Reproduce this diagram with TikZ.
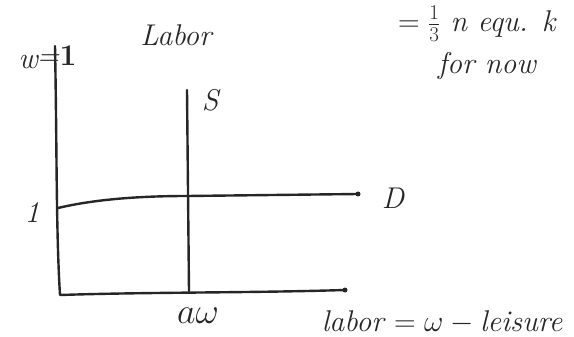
\RequirePackage{fix-cm}
\documentclass[tikz,border=0pt]{standalone}
\begin{document}
\begin{tikzpicture}[x=1pt,y=-1pt,
  ink/.style={line width=2.4pt,draw=black!85,line cap=round,line join=round},
  lbl/.style={font=\fontsize{30}{32}\selectfont\itshape,text=black!85,inner sep=0pt},
  big/.style={font=\fontsize{36}{38}\selectfont\itshape,text=black!85,inner sep=0pt},
  dot/.style={circle,fill=black!85,inner sep=0pt,minimum size=5pt}]
\useasboundingbox (0,0) rectangle (574,337);
% axes
\coordinate (ytop) at (55,46);
\coordinate (origin) at (60,295);
\node[dot] (xend) at (345,290) {};
\draw[ink] (ytop) .. controls (57,150) and (56,230) .. (origin)
  .. controls (150,292) and (250,293) .. (xend.center);
% supply
\coordinate (stop) at (187,90);
\coordinate (sbot) at (189,291);
\draw[ink] (stop) -- (sbot);
% demand
\coordinate (dstart) at (58,208);
\node[dot] (dend) at (358,194) {};
\draw[ink] (dstart) .. controls (100,198) and (150,196) .. (187,196) -- (dend.center);
% labels
\node[lbl] (labor) at (176,35) {Labor};
\node[lbl] (w) at (28,62) {w};
\node[lbl] (eq) at (48,60) {=};
\node[lbl,font=\fontsize{30}{32}\selectfont\bfseries] (wone) at (68,56) {1};
\node[lbl] (s) at (210,100) {S};
\node[lbl] (one) at (32,213) {1};
\node[lbl] (d) at (393,198) {D};
\node[big] (aw) at (198,316) {$a\omega$};
\node[lbl] (lab) at (442,322) {labor $=\omega-{}$leisure};
\node[lbl,anchor=west] (eqn) at (398,24) {$=\frac{1}{3}$ n equ. k};
\node[lbl] (fornow) at (487,66) {for now};
\end{tikzpicture}
\end{document}
